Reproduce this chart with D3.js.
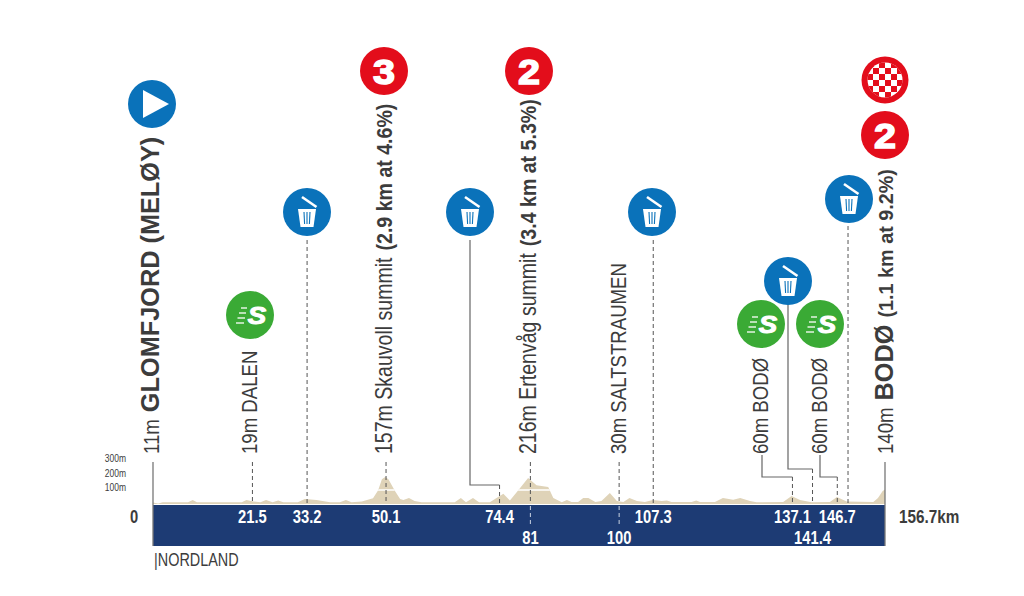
<!DOCTYPE html>
<html><head><meta charset="utf-8">
<script src="https://cdn.jsdelivr.net/npm/d3@7"></script>
<style>html,body{margin:0;background:#fff}svg{display:block}</style></head>
<body><svg id="c" width="1024" height="596"></svg>
<script>
const totalKm = 156.7;
const profileKm = [0,1.1,2.1,7.5,8.5,9.4,19,20,21.5,23,24.2,25.6,26.8,27.9,31,32.5,35,37.9,40,41.3,42.5,44.7,47.1,48.2,49,49.7,50.4,51.8,52.9,53.6,54.8,56,57.5,64.6,65.9,67,68.5,69.8,72.1,75,76.4,78.2,80.3,82.1,84.6,85.7,87.5,88.6,89.6,91,92.1,93.2,94.7,96,97.8,99.3,100.7,102,103.6,105.3,107,108.9,110,111,115.3,116.3,117.1,120.3,122,124.2,125.7,127.8,129.2,134.9,136.7,138.5,141,144.9,146.4,148.5,154.2,155.2,156.2,156.7];
const profileElev = [11,4,12,12,28,12,12,28,18,12,28,12,25,12,12,35,28,12,12,28,12,18,40,95,170,186,170,90,35,28,42,20,12,12,42,12,42,12,12,70,25,95,180,130,118,42,12,28,14,14,42,42,14,20,76,20,14,42,20,14,28,20,25,14,14,25,14,14,42,30,42,20,12,14,55,28,12,14,48,18,14,42,90,100];
const elevTicks = [100,200,300];
const topKmLabels = [21.5,33.2,50.1,74.4,107.3,137.1,146.7];
const lowKmLabels = [81,100,141.4];
const climbBands = [[47,53],[77,87]];
const directDashKm = [21.5,33.2,50.1,81,100,107.3,149];
const elbowKm = [74.4,137.1,141.4,146.7];
const placeLabels = [
 [{t:"11m",k:"r"},{t:"GLOMFJORD (MELØY)",k:"B"}],
 [{t:"19m DALEN",k:"r"}],
 [{t:"157m Skauvoll summit",k:"m"},{t:"(2.9 km at 4.6%)",k:"b"}],
 [{t:"216m Ertenvåg summit",k:"m"},{t:"(3.4 km at 5.3%)",k:"b"}],
 [{t:"30m SALTSTRAUMEN",k:"r"}],
 [{t:"60m BODØ",k:"r"}],
 [{t:"60m BODØ",k:"r"}],
 [{t:"140m",k:"r"},{t:"BODØ",k:"B"},{t:"(1.1 km at 9.2%)",k:"w"}]
];
const labelX = [150.5,248.5,384,528,618,759.5,818.5,885];

const C = {navy:"#1d3b74",sand:"#dfd3b8",ink:"#3c3c3c",grey:"#6e6e6e",blue:"#0a72ba",green:"#3aaa35",red:"#e30d1b"};
const WIDE = "'Liberation Sans',Arial,sans-serif";
const svg = d3.select("#c");
const x = d3.scaleLinear().domain([0,totalKm]).range([153,885]);
const y = d3.scaleLinear().domain([0,300]).range([504,460.5]);

const area = d3.area().x(d=>x(d[0])).y0(y(0)).y1(d=>y(d[1]));
const pts = d3.zip(profileKm,profileElev);
svg.append("clipPath").attr("id","pc").append("path").attr("d",area(pts));
svg.append("path").attr("d",area(pts)).attr("fill",C.sand);
svg.append("g").attr("clip-path","url(#pc)").selectAll("line").data(climbBands).join("line")
 .attr("x1",d=>x(d[0])).attr("x2",d=>x(d[1])).attr("y1",y(97)).attr("y2",y(97))
 .attr("stroke","#fff").attr("stroke-width",1.6);

svg.append("rect").attr("x",x(0)).attr("y",505).attr("width",x(totalKm)-x(0)).attr("height",41).attr("fill",C.navy);

svg.selectAll(".edge").data([0,totalKm]).join("line").attr("x1",d=>x(d)).attr("x2",d=>x(d))
 .attr("y1",462).attr("y2",546).attr("stroke","#777").attr("stroke-width",1.3);

const tops = {21.5:462,33.2:240,50.1:462,81:462,100:462,107.3:240,149:226};
const dash = (x0,y1,y2,col)=>svg.append("line").attr("x1",x0).attr("x2",x0).attr("y1",y1).attr("y2",y2)
 .attr("stroke",col||"#555").attr("stroke-width",1).attr("stroke-dasharray","4 3");
directDashKm.forEach(k=>dash(x(k)-1,tops[k],504));
dash(x(81)-1,506,526,"#c9d2e2"); dash(x(100)-1,506,526,"#c9d2e2");

const elbow = {74.4:[470,240,485],137.1:[762,455,477],141.4:[788,300,469],146.7:[820,455,477]};
elbowKm.forEach(k=>{
 const [sx,sy,ey]=elbow[k], ex=x(k)-1;
 svg.append("path").attr("d",d3.line()([[sx,sy],[sx,ey],[ex,ey]])).attr("fill","none").attr("stroke","#666").attr("stroke-width",1.2);
 dash(ex,ey,504);
});

const ax = svg.append("g").attr("transform","translate(126,0)").call(d3.axisLeft(y).tickValues(elevTicks).tickSize(0).tickPadding(0).tickFormat(d=>d+"m"));
ax.select(".domain").remove();
ax.selectAll("text").attr("dy","0.32em").attr("transform","translate(0,-2) scale(.85,1)").attr("fill",C.ink).attr("font-family",WIDE).attr("font-size",10);

const narrowText=(g,px,py,txt,opt={})=>g.append("text").attr("transform",`translate(${px},${py}) scale(${opt.sx||.82},1)`)
  .attr("text-anchor",opt.anchor||"middle").attr("fill",opt.fill||C.ink).attr("font-family",WIDE)
  .attr("font-weight",opt.w||700).attr("font-size",opt.s||18).text(txt);
const kmG=svg.append("g");
topKmLabels.forEach(k=>narrowText(kmG,x(k)-1,523,k,{fill:"#fff"}));
lowKmLabels.forEach(k=>narrowText(kmG,x(k)-1,543.5,k,{fill:"#fff"}));
narrowText(svg,134,523,"0");
narrowText(svg,899,523,totalKm+"km",{anchor:"start",sx:.85});
narrowText(svg,154,566,"|NORDLAND",{anchor:"start",w:400,s:19,sx:.76});

const style={r:{w:400,s:23,sx:.81,gap:7},m:{w:400,s:23,sx:.85,gap:7},b:{w:700,s:22,sx:.89,gap:6},w:{w:700,s:20,sx:.99,gap:7},B:{w:700,s:25.3,sx:1,gap:7}};
placeLabels.forEach((parts,i)=>{
 let cur=454;
 parts.forEach(p=>{
  const s=style[p.k];
  const t=svg.append("text").attr("transform",`translate(${labelX[i]+8},${cur}) rotate(-90) scale(${s.sx},1)`)
   .attr("fill",C.ink).attr("font-family",WIDE).attr("font-weight",s.w).attr("font-size",s.s).text(p.t);
  cur-=t.node().getComputedTextLength()*s.sx+s.gap;
 });
});

const circ=(cx,cy,r,col)=>{const g=svg.append("g").attr("transform",`translate(${cx},${cy})`);g.append("circle").attr("r",r).attr("fill",col);return g;};
const start=circ(152,104,24,C.blue);
start.append("path").attr("d",d3.line()([[-9,-14],[17,0],[-9,14]])+"Z").attr("fill","#fff");
function trash(cx,cy){const g=circ(cx,cy,24,C.blue);
 g.append("path").attr("d","M-9,-3H9L6.5,15H-6.5Z").attr("fill","#fff");
 g.selectAll(".b").data([-3,0,3]).join("line").attr("x1",d=>d).attr("x2",d=>d*0.8).attr("y1",0).attr("y2",12).attr("stroke",C.blue).attr("stroke-width",1.1);
 g.append("path").attr("d","M-5,-15L9.5,-5").attr("stroke","#fff").attr("stroke-width",2.6);
}
[[307,212],[470,212],[652,212],[788,281],[849,199]].forEach(d=>trash(...d));
function sprint(cx,cy){const g=circ(cx,cy,24,C.green);
 g.append("text").attr("transform","translate(7,8.5) scale(1.2,1)").attr("text-anchor","middle").attr("fill","#fff").attr("font-family",WIDE).attr("font-weight",700).attr("font-style","italic").attr("font-size",23).attr("stroke","#fff").attr("stroke-width",1).text("S");
 g.selectAll(".s").data([[-9,-3,-7],[-11,-4,-2],[-12.5,-5,3],[-14,-6,8]]).join("line").attr("x1",d=>d[0]).attr("x2",d=>d[1]).attr("y1",d=>d[2]).attr("y2",d=>d[2]).attr("stroke","#fff").attr("stroke-width",1.3);
}
[[250,315],[761,324],[820,324]].forEach(d=>sprint(...d));
function badge(cx,cy,n){const g=circ(cx,cy,24,C.red);
 g.append("text").attr("transform","translate(0,13) scale(1.1,1)").attr("text-anchor","middle").attr("fill","#fff").attr("font-family",WIDE).attr("font-weight",700).attr("font-size",36).attr("stroke","#fff").attr("stroke-width",1.5).text(n);
}
badge(384,71,3);badge(529,71,2);badge(885,135,2);
const fin=circ(885,80,23.5,C.red);
fin.append("circle").attr("r",17.5).attr("fill","#fff");
svg.append("clipPath").attr("id","fc").append("circle").attr("r",17.5);
const fg=fin.append("g").attr("clip-path","url(#fc)");
d3.range(-3,3).forEach(i=>d3.range(-3,3).forEach(j=>{if((i+j)%2===0)fg.append("rect").attr("x",i*6).attr("y",j*6).attr("width",6).attr("height",6).attr("fill",C.red);}));
</script></body></html>
